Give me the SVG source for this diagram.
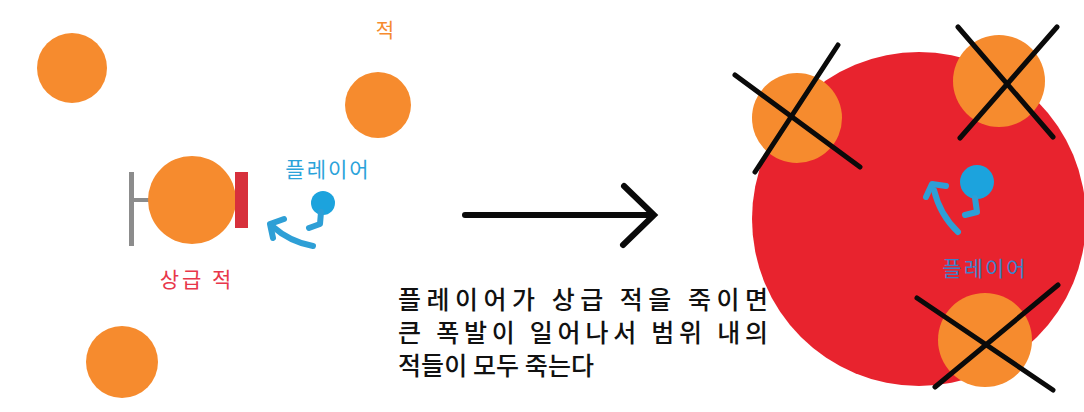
<svg xmlns="http://www.w3.org/2000/svg" width="1084" height="412" viewBox="0 0 1084 412">
  <style>
    .enemy { fill: #F68B2E; }
    .ko { font-family: "Noto Sans CJK KR", "Noto Sans", sans-serif; }
    .cross { stroke: #0a0a0a; stroke-width: 5; stroke-linecap: round; }
    .player { fill: #1CA3DD; }
    .move { fill: none; stroke: #2E9FD6; stroke-width: 6; stroke-linecap: round; stroke-linejoin: round; }
  </style>
  <rect width="1084" height="412" fill="#ffffff"/>

  <!-- before: scattered enemies -->
  <g id="enemy-topleft"><circle class="enemy" cx="72" cy="68" r="35"/></g>
  <g id="enemy-top">
    <circle class="enemy" cx="378" cy="105" r="33"/>
    <text class="ko" x="385" y="38" font-size="20" fill="#F68B2E" text-anchor="middle">적</text>
  </g>
  <g id="enemy-bottomleft"><circle class="enemy" cx="122" cy="362" r="36"/></g>

  <!-- elite enemy with shield and banner -->
  <g id="elite-enemy">
    <rect x="129" y="172" width="5" height="74" fill="#8C8C8C"/>
    <rect x="131" y="198" width="18" height="4" fill="#8C8C8C"/>
    <circle class="enemy" cx="192" cy="200" r="44"/>
    <rect x="235" y="172" width="13" height="56" fill="#D7303C"/>
    <text class="ko" x="197" y="287" font-size="21" fill="#E8374A" text-anchor="middle" letter-spacing="3">상급 적</text>
  </g>

  <!-- player attacking -->
  <g id="player-left">
    <circle class="player" cx="323" cy="203" r="12"/>
    <path class="move" d="M321 212 L320 224 L309 228"/>
    <path class="move" d="M313 246 Q290 242 272 226"/>
    <path class="move" d="M273 238 L270 224 L284 219"/>
    <text class="ko" x="328" y="177" font-size="21" fill="#2BA3DA" text-anchor="middle" letter-spacing="2">플레이어</text>
  </g>

  <!-- transition arrow -->
  <g id="connectors">
    <path d="M465 215 H652" stroke="#0a0a0a" stroke-width="6" stroke-linecap="round" fill="none"/>
    <path d="M624 186 L654 215 L623 245" stroke="#0a0a0a" stroke-width="6" stroke-linecap="round" stroke-linejoin="miter" fill="none"/>
  </g>

  <!-- explanation -->
  <g id="caption" class="ko" font-size="25" font-weight="500" fill="#111111">
    <text x="398" y="309" textLength="370" lengthAdjust="spacing">플레이어가 상급 적을 죽이면</text>
    <text x="398" y="342" textLength="370" lengthAdjust="spacing">큰 폭발이 일어나서 범위 내의</text>
    <text x="398" y="375" textLength="196" lengthAdjust="spacing">적들이 모두 죽는다</text>
  </g>

  <!-- after: explosion -->
  <g id="explosion"><circle cx="919" cy="219" r="167" fill="#E8232E"/></g>

  <g id="dead-enemy-1">
    <circle class="enemy" cx="797" cy="118" r="45"/>
    <line class="cross" x1="735" y1="75" x2="860" y2="167"/>
    <line class="cross" x1="838" y1="45" x2="755" y2="172"/>
  </g>
  <g id="dead-enemy-2">
    <circle class="enemy" cx="999" cy="81" r="46"/>
    <line class="cross" x1="958" y1="27" x2="1053" y2="137"/>
    <line class="cross" x1="1057" y1="27" x2="960" y2="138"/>
  </g>
  <g id="dead-enemy-3">
    <circle class="enemy" cx="985" cy="340" r="47"/>
    <line class="cross" x1="917" y1="298" x2="1053" y2="390"/>
    <line class="cross" x1="1058" y1="285" x2="935" y2="387"/>
  </g>

  <g id="player-right">
    <circle class="player" cx="977" cy="182" r="17"/>
    <path class="move" d="M975 198 L977 212 L965 215"/>
    <path class="move" d="M958 232 Q940 215 934 190"/>
    <path class="move" d="M926 197 L932 184 L946 186"/>
    <text class="ko" x="985" y="276" font-size="21" fill="#3E80C8" text-anchor="middle" letter-spacing="2">플레이어</text>
  </g>
</svg>
